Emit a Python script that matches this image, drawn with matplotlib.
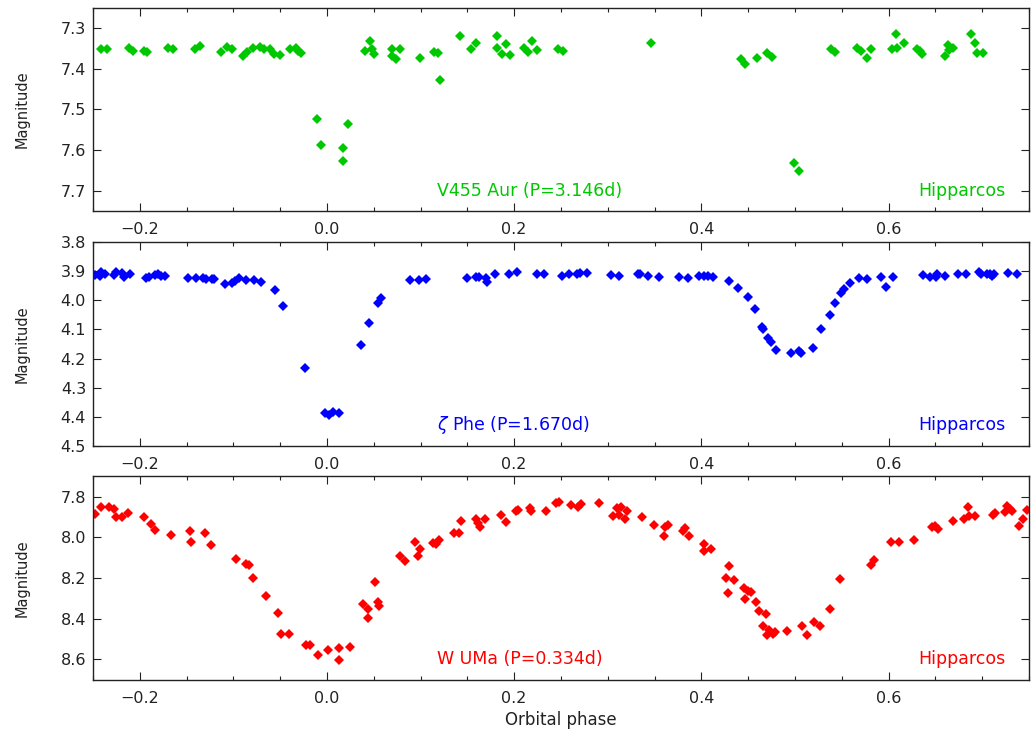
import numpy as np
import matplotlib
matplotlib.use("Agg")
import matplotlib.pyplot as plt
from matplotlib.ticker import MultipleLocator

# V455 Aur (P=3.146d)
v455_phase = [-0.241, -0.235, -0.212, -0.207, -0.196, -0.192, -0.170, -0.164, -0.141, -0.136,
              -0.113, -0.107, -0.102, -0.090, -0.085, -0.079, -0.072, -0.067, -0.061, -0.057,
              -0.050, -0.040, -0.033, -0.031, -0.028, -0.011, -0.006, 0.017, 0.017, 0.022,
              0.041, 0.046, 0.048, 0.050, 0.069, 0.070, 0.074, 0.078, 0.099, 0.114,
              0.119, 0.121, 0.142, 0.154, 0.159, 0.182, 0.182, 0.187, 0.191, 0.196,
              0.210, 0.215, 0.219, 0.224, 0.247, 0.252, 0.346, 0.442, 0.447, 0.459,
              0.470, 0.475, 0.499, 0.504, 0.538, 0.543, 0.566, 0.571, 0.577, 0.581,
              0.604, 0.608, 0.609, 0.616, 0.630, 0.634, 0.636, 0.660, 0.664, 0.665,
              0.669, 0.688, 0.692, 0.695, 0.701]
v455_mag = [7.352, 7.352, 7.349, 7.356, 7.356, 7.359, 7.349, 7.353, 7.352, 7.345,
            7.359, 7.347, 7.352, 7.370, 7.359, 7.349, 7.347, 7.352, 7.353, 7.364,
            7.367, 7.352, 7.349, 7.356, 7.363, 7.523, 7.587, 7.595, 7.626, 7.536,
            7.356, 7.333, 7.352, 7.364, 7.352, 7.370, 7.376, 7.353, 7.375, 7.359,
            7.361, 7.429, 7.320, 7.352, 7.337, 7.320, 7.349, 7.364, 7.339, 7.367,
            7.349, 7.359, 7.333, 7.355, 7.352, 7.356, 7.338, 7.376, 7.388, 7.375,
            7.363, 7.371, 7.632, 7.652, 7.351, 7.359, 7.349, 7.357, 7.374, 7.353,
            7.353, 7.316, 7.349, 7.338, 7.353, 7.357, 7.364, 7.368, 7.341, 7.355,
            7.349, 7.316, 7.338, 7.363, 7.361]

# zeta Phe (P=1.670d)
zphe_phase = [-0.248, -0.243, -0.241, -0.237, -0.228, -0.225, -0.219, -0.217, -0.210, -0.193,
              -0.190, -0.184, -0.181, -0.177, -0.173, -0.149, -0.140, -0.132, -0.129, -0.123,
              -0.121, -0.109, -0.101, -0.098, -0.094, -0.086, -0.078, -0.070, -0.056, -0.047,
              -0.024, -0.002, 0.002, 0.006, 0.013, 0.036, 0.045, 0.054, 0.058, 0.089,
              0.098, 0.106, 0.150, 0.159, 0.162, 0.170, 0.171, 0.179, 0.195, 0.203,
              0.224, 0.232, 0.251, 0.259, 0.267, 0.270, 0.278, 0.303, 0.312, 0.332,
              0.334, 0.343, 0.355, 0.376, 0.386, 0.397, 0.403, 0.407, 0.412, 0.430,
              0.439, 0.450, 0.457, 0.465, 0.466, 0.471, 0.474, 0.480, 0.496, 0.504,
              0.506, 0.519, 0.528, 0.537, 0.543, 0.549, 0.552, 0.559, 0.568, 0.577,
              0.592, 0.597, 0.605, 0.637, 0.644, 0.651, 0.652, 0.660, 0.674, 0.683,
              0.697, 0.699, 0.705, 0.708, 0.710, 0.713, 0.728, 0.737]
zphe_mag = [3.914, 3.916, 3.904, 3.910, 3.914, 3.901, 3.905, 3.918, 3.910, 3.924,
            3.918, 3.913, 3.910, 3.916, 3.916, 3.924, 3.924, 3.922, 3.928, 3.928,
            3.928, 3.945, 3.941, 3.933, 3.924, 3.930, 3.930, 3.936, 3.966, 4.020,
            4.232, 4.387, 4.393, 4.385, 4.387, 4.155, 4.077, 4.008, 3.991, 3.931,
            3.930, 3.925, 3.922, 3.918, 3.918, 3.922, 3.936, 3.910, 3.910, 3.902,
            3.910, 3.910, 3.916, 3.910, 3.910, 3.905, 3.905, 3.913, 3.916, 3.908,
            3.908, 3.916, 3.920, 3.920, 3.923, 3.916, 3.916, 3.916, 3.920, 3.933,
            3.959, 3.989, 4.031, 4.092, 4.097, 4.129, 4.144, 4.171, 4.180, 4.175,
            4.180, 4.163, 4.098, 4.052, 4.010, 3.974, 3.962, 3.939, 3.922, 3.925,
            3.920, 3.953, 3.920, 3.914, 3.918, 3.918, 3.910, 3.916, 3.908, 3.908,
            3.902, 3.910, 3.908, 3.908, 3.916, 3.910, 3.905, 3.908]

# W UMa (P=0.334d)
wuma_phase = [-0.248, -0.241, -0.233, -0.228, -0.225, -0.219, -0.213, -0.195, -0.188, -0.184,
              -0.167, -0.146, -0.145, -0.130, -0.124, -0.097, -0.087, -0.083, -0.079, -0.065,
              -0.052, -0.049, -0.041, -0.022, -0.018, -0.010, 0.001, 0.013, 0.013, 0.025,
              0.039, 0.044, 0.044, 0.051, 0.055, 0.056, 0.078, 0.083, 0.094, 0.097,
              0.099, 0.113, 0.117, 0.120, 0.136, 0.141, 0.143, 0.159, 0.161, 0.163,
              0.169, 0.186, 0.191, 0.202, 0.204, 0.217, 0.218, 0.234, 0.245, 0.248,
              0.261, 0.268, 0.271, 0.291, 0.306, 0.310, 0.312, 0.314, 0.318, 0.321,
              0.337, 0.349, 0.360, 0.361, 0.364, 0.380, 0.383, 0.387, 0.403, 0.403,
              0.410, 0.426, 0.429, 0.428, 0.435, 0.446, 0.447, 0.450, 0.453, 0.458,
              0.462, 0.466, 0.469, 0.470, 0.472, 0.477, 0.479, 0.492, 0.508, 0.513,
              0.520, 0.527, 0.537, 0.548, 0.581, 0.584, 0.603, 0.611, 0.627, 0.646,
              0.650, 0.653, 0.669, 0.681, 0.685, 0.686, 0.692, 0.712, 0.714, 0.724,
              0.727, 0.730, 0.732, 0.739, 0.744, 0.748]
wuma_mag = [7.886, 7.853, 7.853, 7.859, 7.900, 7.900, 7.881, 7.900, 7.935, 7.966,
            7.988, 7.968, 8.021, 7.979, 8.037, 8.108, 8.131, 8.136, 8.202, 8.289,
            8.371, 8.473, 8.473, 8.531, 8.531, 8.580, 8.552, 8.544, 8.602, 8.539,
            8.330, 8.355, 8.399, 8.218, 8.317, 8.338, 8.091, 8.119, 8.021, 8.091,
            8.058, 8.026, 8.034, 8.012, 7.979, 7.979, 7.922, 7.910, 7.930, 7.950,
            7.909, 7.889, 7.927, 7.872, 7.864, 7.856, 7.872, 7.869, 7.831, 7.828,
            7.840, 7.853, 7.836, 7.831, 7.897, 7.856, 7.889, 7.853, 7.909, 7.872,
            7.902, 7.942, 7.996, 7.950, 7.938, 7.971, 7.955, 7.996, 8.034, 8.070,
            8.057, 8.202, 8.139, 8.276, 8.210, 8.248, 8.305, 8.264, 8.267, 8.317,
            8.361, 8.435, 8.379, 8.481, 8.457, 8.477, 8.465, 8.462, 8.435, 8.478,
            8.416, 8.437, 8.353, 8.205, 8.136, 8.111, 8.021, 8.021, 8.012, 7.950,
            7.947, 7.958, 7.922, 7.910, 7.851, 7.894, 7.894, 7.889, 7.881, 7.876,
            7.848, 7.861, 7.872, 7.943, 7.909, 7.867]

panels = [
    (v455_phase, v455_mag, '#00c800', 'V455 Aur (P=3.146d)', (7.75, 7.25), 0.1),
    (zphe_phase, zphe_mag, '#0000ff', r'$\zeta$ Phe (P=1.670d)', (4.5, 3.8), 0.1),
    (wuma_phase, wuma_mag, '#ff0000', 'W UMa (P=0.334d)', (8.7, 7.7), 0.2),
]

fig = plt.figure(figsize=(10.31, 7.36), dpi=100)
bottoms = [0.7133, 0.3944, 0.0765]
axcol = '#222222'

for (ph, mg, col, name, ylim, ystep), b in zip(panels, bottoms):
    ax = fig.add_axes([0.0902, b, 0.9078, 0.2765])
    ax.plot(ph, mg, 'D', color=col, ms=5, mec=col, mew=0)
    ax.set_xlim(-0.25, 0.75)
    ax.set_ylim(*ylim)  # magnitudes: brighter at top
    ax.xaxis.set_major_locator(MultipleLocator(0.2))
    ax.xaxis.set_minor_locator(MultipleLocator(0.05))
    ax.yaxis.set_major_locator(MultipleLocator(ystep))
    ax.xaxis.set_major_formatter(plt.FuncFormatter(lambda v, p: f'{v:.1f}'.replace('-', '\u2212')))
    ax.yaxis.set_major_formatter(plt.FuncFormatter(lambda v, p: f'{v:.1f}'))
    ax.tick_params(which='both', direction='in', top=True, right=True,
                   color=axcol, labelcolor=axcol, labelsize=11.5)
    ax.tick_params(which='major', length=6, width=0.8)
    ax.tick_params(which='minor', length=3, width=0.8)
    ax.tick_params(axis='x', pad=8)
    ax.tick_params(axis='y', pad=5)
    for s in ax.spines.values():
        s.set_color(axcol)
        s.set_linewidth(1.0)
    ax.set_ylabel('Magnitude', fontsize=10.5, color=axcol, labelpad=22)
    ax.text(0.3675, 0.075, name, transform=ax.transAxes, color=col, fontsize=12.5,
            ha='left', va='baseline')
    ax.text(0.975, 0.075, 'Hipparcos', transform=ax.transAxes, color=col, fontsize=12.5,
            ha='right', va='baseline')

ax.set_xlabel('Orbital phase', fontsize=12, color=axcol, labelpad=4)

fig.savefig('out.png', dpi=100)
